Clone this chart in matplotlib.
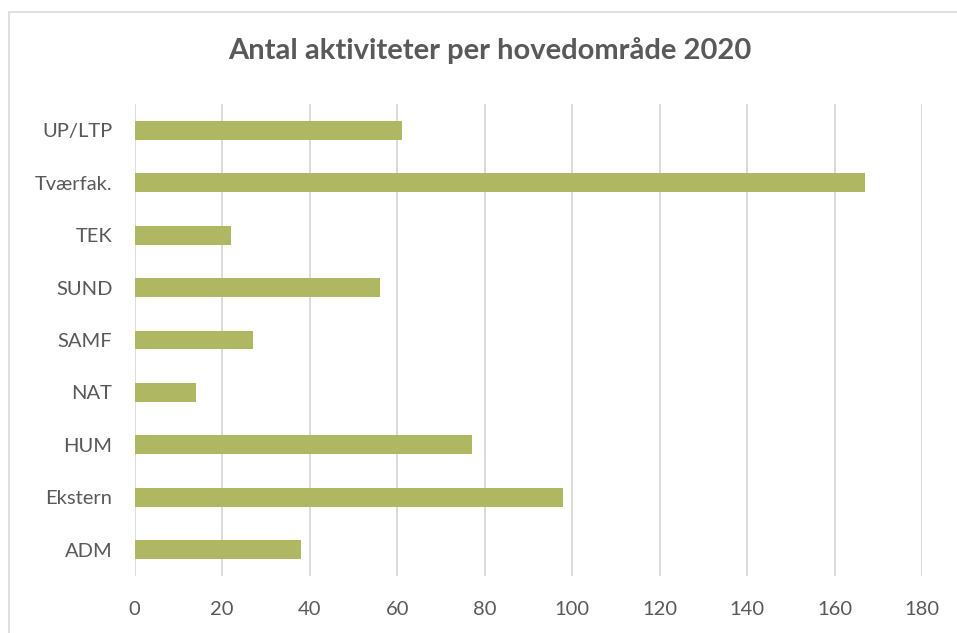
import matplotlib.pyplot as plt
from matplotlib.patches import Rectangle

categories = ["ADM", "Ekstern", "HUM", "NAT", "SAMF", "SUND", "TEK", "Tværfak.", "UP/LTP"]
activities = [38, 98, 77, 14, 27, 56, 22, 167, 61]
x_ticks = [0, 20, 40, 60, 80, 100, 120, 140, 160, 180]

bar_color = "#AFB762"
text_color = "#595959"
grid_color = "#D9D9D9"

plt.rcParams["font.family"] = ["Lato", "DejaVu Sans"]

W, H = 957, 633
fig = plt.figure(figsize=(W / 100, H / 100), dpi=100)

# chart-area border; right and bottom edges fall outside the picture
fig.patches.append(Rectangle((9 / W, -20 / H), 1000 / W, (H - 12 + 20) / H,
                             transform=fig.transFigure, fill=False,
                             edgecolor=grid_color, linewidth=1.2))

ax = fig.add_axes([134.7 / W, (H - 576) / H, 787.5 / W, 472 / H])
ax.barh(range(len(categories)), activities, height=0.36, color=bar_color, zorder=3)

ax.set_xlim(0, 180)
ax.set_ylim(-0.5, len(categories) - 0.5)
ax.set_xticks(x_ticks)
ax.set_yticks(range(len(categories)))
ax.set_yticklabels(categories)
ax.grid(axis="x", color=grid_color, linewidth=1.3, zorder=0)

for s in ax.spines.values():
    s.set_visible(False)
ax.tick_params(length=0, labelsize=14.5, colors=text_color)
ax.tick_params(axis="x", pad=18)
ax.tick_params(axis="y", pad=16)

fig.text(489.5 / W, 1 - 50 / H, "Antal aktiviteter per hovedområde 2020",
         ha="center", va="center", fontsize=21, fontweight="bold", color=text_color)

fig.savefig("out.png", dpi=100)
